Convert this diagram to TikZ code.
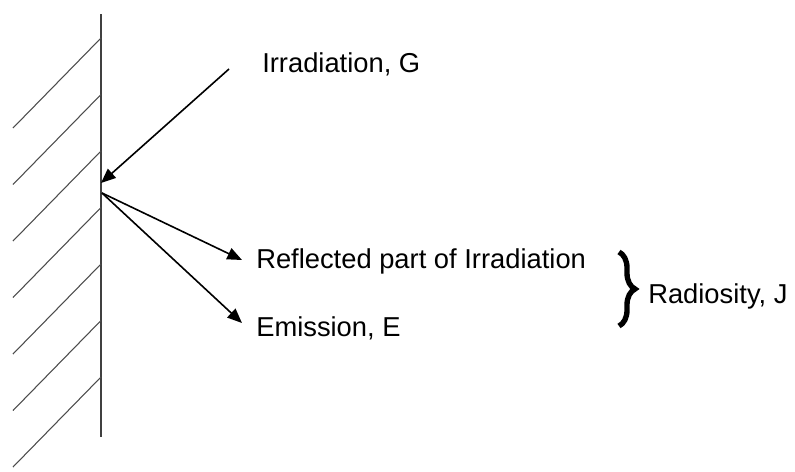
\documentclass[tikz,border=0pt]{standalone}
\usepackage{fontspec}
\setmainfont{Liberation Sans}
\usetikzlibrary{arrows.meta,decorations.pathreplacing}

\begin{document}
\begin{tikzpicture}[x=0.75pt,y=-0.75pt,
    ray/.style={-{Triangle[length=11pt,width=9pt]}, line width=1.2pt},
    txt/.style={anchor=base west, inner sep=0pt, font=\fontsize{20.5}{24}\selectfont}]
  \useasboundingbox (0,0) rectangle (795,471);
  % wall
  \draw[line width=1.1pt, black!75] (101,14) coordinate (top) -- (101,437) coordinate (bot);
  \foreach \i in {0,...,6}
    \draw[line width=0.8pt, black!70] (101,38+56.5*\i) -- ++(-88,90);
  % incoming
  \coordinate (src) at (229,69);
  \coordinate (hit) at (101,183);
  \draw[ray] (src) -- (hit);
  \node[txt] (irr) at (262,72) {Irradiation, G};
  % outgoing
  \coordinate (leave) at (102,193);
  \coordinate (refl) at (242,260);
  \coordinate (emit) at (242,323);
  \draw[ray] (leave) -- (refl);
  \draw[ray] (leave) -- (emit);
  \node[txt] (refltxt) at (256,268) {Reflected part of Irradiation};
  \node[txt] (emittxt) at (256,336) {Emission, E};
  % radiosity
  \draw[decorate, decoration={brace, amplitude=12pt}, line width=4pt]
    (619,252) coordinate (btop) -- (619,326) coordinate (bbot);
  \node[txt] (rad) at (648,303) {Radiosity, J};
\end{tikzpicture}
\end{document}
